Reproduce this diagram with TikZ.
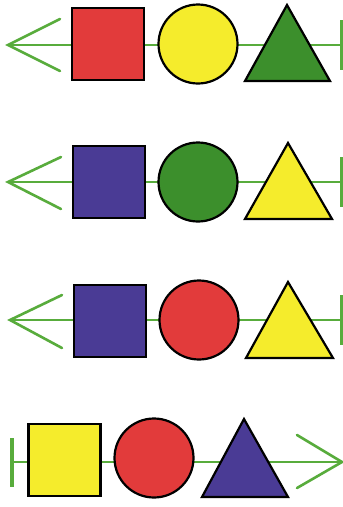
\documentclass[tikz,border=0pt]{standalone}
\definecolor{cred}{HTML}{E23B3B}
\definecolor{cyel}{HTML}{F5EC2C}
\definecolor{cgrn}{HTML}{3C8F2C}
\definecolor{cblu}{HTML}{4A3B95}
\definecolor{cline}{HTML}{58AC3C}
\begin{document}
\begin{tikzpicture}[x=1pt,y=-1pt,
  gline/.style={cline,line width=2.6pt},
  arm/.style={cline,line width=2.6pt,line cap=round},
  endbar/.style={cline,line width=4.5pt},
  sq/.style={draw=black,line width=2.2pt,rectangle,minimum size=72pt,inner sep=0pt},
  ci/.style={draw=black,line width=2.2pt,circle,minimum size=79pt,inner sep=0pt},
  tri/.style={draw=black,line width=2.2pt,line join=miter}]
\useasboundingbox[fill=white] (0,0) rectangle (343,507);
% Row 1
\coordinate (t1) at (8,45); \coordinate (a1) at (60,19); \coordinate (b1) at (60,71);
\coordinate (e1) at (342,45);
\draw[gline] (t1) -- (e1);
\draw[arm] (a1) -- (t1) -- (b1);
\draw[endbar] (342,20) -- (342,70);
\node[sq,fill=cred] (s1) at (108,44) {};
\node[ci,fill=cyel] (c1) at (198,44) {};
\draw[tri,fill=cgrn] (245,81) -- (330,81) -- (287,5) -- cycle;
% Row 2
\coordinate (t2) at (8,182); \coordinate (a2) at (61,157); \coordinate (b2) at (61,209);
\coordinate (e2) at (342,182);
\draw[gline] (t2) -- (e2);
\draw[arm] (a2) -- (t2) -- (b2);
\draw[endbar] (342,157) -- (342,207);
\node[sq,fill=cblu] (s2) at (109,182) {};
\node[ci,fill=cgrn] (c2) at (198,182) {};
\draw[tri,fill=cyel] (245,219) -- (332,219) -- (288,143) -- cycle;
% Row 3
\coordinate (t3) at (10,320); \coordinate (a3) at (62,295); \coordinate (b3) at (62,348);
\coordinate (e3) at (342,320);
\draw[gline] (t3) -- (e3);
\draw[arm] (a3) -- (t3) -- (b3);
\draw[endbar] (342,295) -- (342,345);
\node[sq,fill=cblu] (s3) at (110,321) {};
\node[ci,fill=cred] (c3) at (199,320) {};
\draw[tri,fill=cyel] (246,358) -- (333,358) -- (288,282) -- cycle;
% Row 4
\coordinate (e4) at (12,462); \coordinate (t4) at (342,462);
\coordinate (a4) at (297,435); \coordinate (b4) at (297,488);
\draw[gline] (e4) -- (t4);
\draw[arm] (a4) -- (t4) -- (b4);
\draw[endbar] (12,438) -- (12,487);
\node[sq,fill=cyel] (s4) at (64.5,460) {};
\node[ci,fill=cred] (c4) at (154,458) {};
\draw[tri,fill=cblu] (202,497) -- (288,497) -- (244,419) -- cycle;
\end{tikzpicture}
\end{document}
